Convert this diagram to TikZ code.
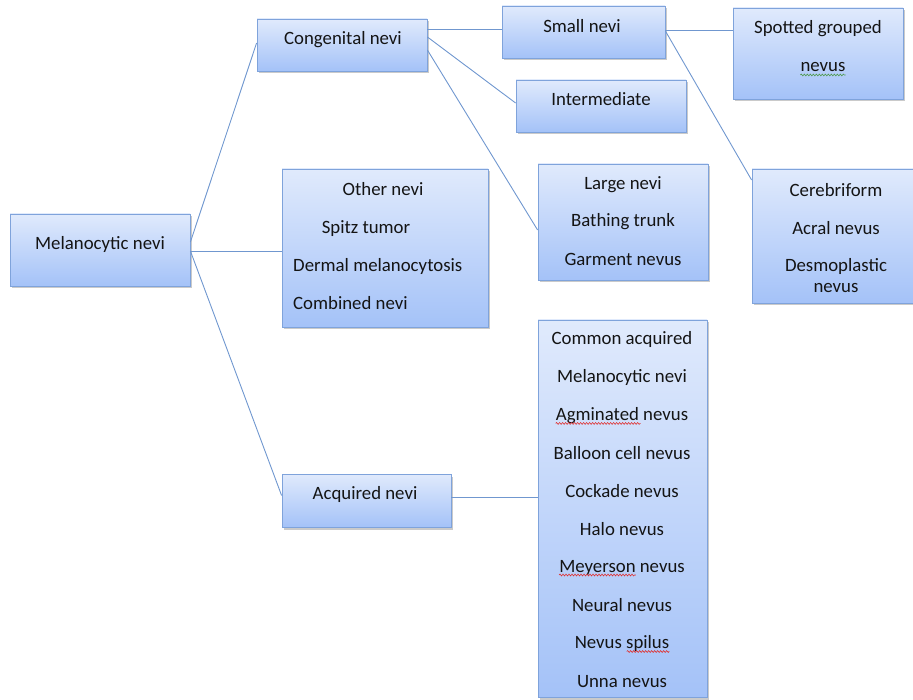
\documentclass[tikz,border=0pt]{standalone}
\usepackage{fontspec}
\setmainfont{Carlito}
\usetikzlibrary{shadows,calc,decorations.pathmorphing}

\definecolor{boxtop}{HTML}{E0EAFC}
\definecolor{boxbot}{HTML}{A4C2F8}
\definecolor{boxline}{HTML}{7FA3DB}
\definecolor{linkcol}{HTML}{7097CF}
\definecolor{spellred}{HTML}{E03030}
\definecolor{spellgreen}{HTML}{4E9A4E}
\definecolor{ink}{HTML}{141414}

\tikzset{
  nbox/.style={draw=boxline, line width=0.8pt, top color=boxtop, bottom color=boxbot,
    inner sep=0pt,
    drop shadow={shadow xshift=2pt, shadow yshift=-2.5pt, opacity=0.35, fill=black!60}},
  lbl/.style={inner sep=0pt, yshift=-1.5pt, font=\fontsize{18.8}{22}\selectfont, text=ink},
  link/.style={draw=linkcol, line width=0.9pt},
  wave/.style={line width=0.6pt, decorate,
    decoration={snake, amplitude=0.9pt, segment length=3pt}},
  redwave/.style={wave, draw=spellred},
  greenwave/.style={wave, draw=spellgreen}
}

\begin{document}
\begin{tikzpicture}[x=1pt, y=-1pt]
\useasboundingbox (0,0) rectangle (913,700);

% ---- boxes ----
\node[nbox, minimum width=180pt, minimum height=72pt]  (mel)   at (100,250)   {};
\node[nbox, minimum width=170pt, minimum height=52pt]  (cong)  at (342,45)    {};
\node[nbox, minimum width=163pt, minimum height=52pt]  (small) at (583.5,32)  {};
\node[nbox, minimum width=170pt, minimum height=52pt]  (inter) at (601,106)   {};
\node[nbox, minimum width=170pt, minimum height=91pt]  (spot)  at (818,53.5)  {};
\node[nbox, minimum width=170pt, minimum height=116pt] (large) at (623,222)   {};
\node[nbox, minimum width=169pt, minimum height=134pt] (cereb) at (836.5,236) {};
\node[nbox, minimum width=206pt, minimum height=158pt] (other) at (385,248)   {};
\node[nbox, minimum width=169pt, minimum height=53pt]  (acq)   at (366.5,500.5) {};
\node[nbox, minimum width=169pt, minimum height=377pt] (list)  at (622.5,508.5) {};

% ---- labels ----
\node[lbl] (tmel)   at (100,243) {Melanocytic nevi};
\node[lbl] (tcong)  at (343,38)  {Congenital nevi};
\node[lbl] (tsmall) at (582,25)  {Small nevi};
\node[lbl] (tinter) at (601,98)  {Intermediate};
\node[lbl] (tspot1) at (818,27)  {Spotted grouped};
\node[lbl] (tspot2) at (823,66)  {nevus};

\node[lbl] (tlarge1) at (623,183) {Large nevi};
\node[lbl] (tlarge2) at (623,220) {Bathing trunk};
\node[lbl] (tlarge3) at (623,258) {Garment nevus};

\node[lbl] (tcer1) at (836,189) {Cerebriform};
\node[lbl] (tcer2) at (836,227) {Acral nevus};
\node[lbl] (tcer3) at (836,265) {Desmoplastic};
\node[lbl] (tcer4) at (836,287) {nevus};

\node[lbl] (toth1) at (383,188) {Other nevi};
\node[lbl] (toth2) at (366,227) {Spitz tumor};
\node[lbl, anchor=west] (toth3) at (293,265) {Dermal melanocytosis};
\node[lbl, anchor=west] (toth4) at (293,302) {Combined nevi};

\node[lbl] (tacq) at (365,493) {Acquired nevi};

\node[lbl] (tl1)  at (622,338) {Common acquired};
\node[lbl] (tl2)  at (622,376) {Melanocytic nevi};
\node[lbl] (tl3)  at (622,414) {Agminated nevus};
\node[lbl] (tl4)  at (622,452) {Balloon cell nevus};
\node[lbl] (tl5)  at (622,490) {Cockade nevus};
\node[lbl] (tl6)  at (622,528) {Halo nevus};
\node[lbl] (tl7)  at (622,566) {Meyerson nevus};
\node[lbl] (tl8)  at (622,604) {Neural nevus};
\node[lbl] (tl9)  at (622,642) {Nevus spilus};
\node[lbl] (tl10) at (622,680) {Unna nevus};

% ---- proofing underlines ----
\draw[greenwave] ([yshift=-3pt]tspot2.base west) -- ([yshift=-3pt]tspot2.base east);
\draw[redwave] ([yshift=-3pt]tl3.base west) -- ([yshift=-3pt]$(tl3.base west)!0.64!(tl3.base east)$);
\draw[redwave] ([yshift=-3pt]tl7.base west) -- ([yshift=-3pt]$(tl7.base west)!0.61!(tl7.base east)$);
\draw[redwave] ([yshift=-3pt]$(tl9.base west)!0.55!(tl9.base east)$) -- ([yshift=-3pt]tl9.base east);

% ---- connectors ----
\draw[link] ([yshift=8pt]mel.east) -- ([yshift=2pt]cong.west);
\draw[link] ([yshift=-1pt]mel.east) -- ([yshift=-1pt]mel.east -| other.west);
\draw[link] ([yshift=-1pt]mel.east) -- ([yshift=5pt]acq.west);

\draw[link] ([yshift=16pt]cong.east) -- ([yshift=16pt]cong.east -| small.west);
\draw[link] ([yshift=8pt]cong.east) -- ([yshift=3pt]inter.west);
\draw[link] ([yshift=-5pt]cong.east) -- ([yshift=-8pt]large.west);

\draw[link] ([yshift=2pt]small.east) -- ([yshift=23.5pt]spot.west);
\draw[link] ([yshift=1pt]small.east) -- ([yshift=56pt]cereb.west);

\draw[link] ([yshift=3.5pt]acq.east) -- ([yshift=3.5pt]acq.east -| list.west);
\end{tikzpicture}
\end{document}
